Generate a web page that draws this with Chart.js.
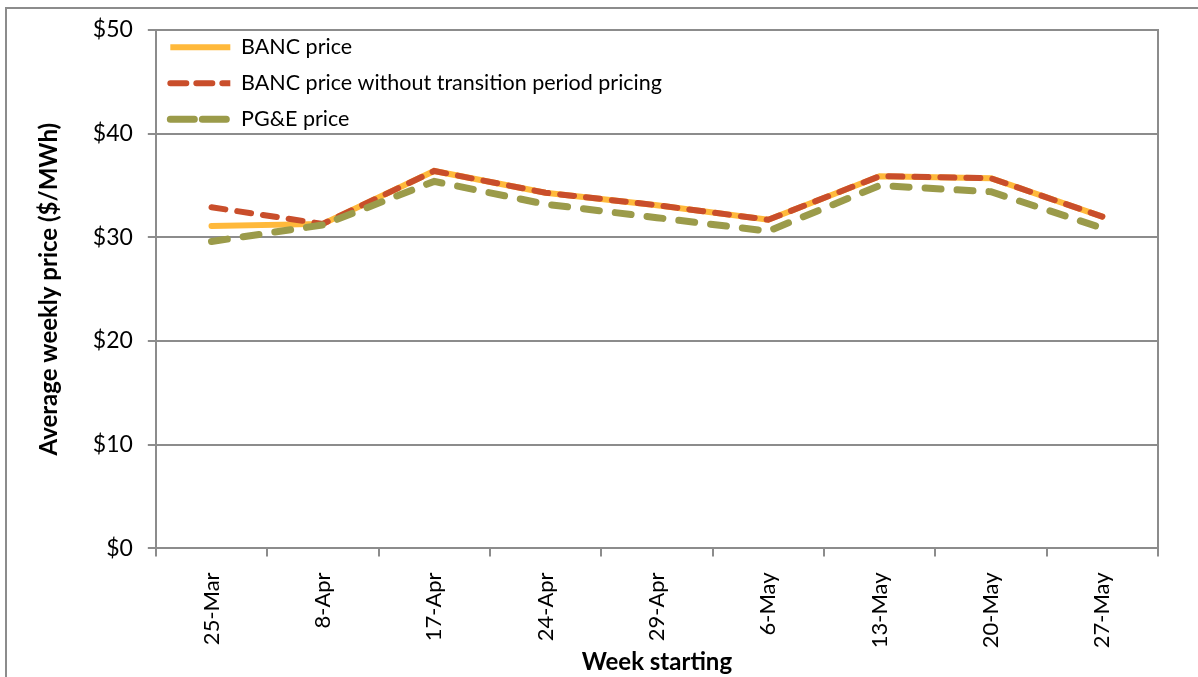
<!DOCTYPE html>
<html>
<head>
<meta charset="utf-8">
<script src="https://cdn.jsdelivr.net/npm/chart.js@4"></script>
<style>
  body { margin: 0; background: #fff; overflow: hidden; }
  #wrap { position: relative; width: 1198px; height: 677px; }
  #frame { position: absolute; left: 5px; top: 7px; width: 1300px; height: 800px;
           border: 2px solid #8c8c8c; pointer-events: none; }
</style>
</head>
<body>
<div id="wrap">
  <canvas id="priceChart" width="1198" height="677"></canvas>
  <div id="frame"></div>
</div>
<script>
let weeks = ['25-Mar', '8-Apr', '17-Apr', '24-Apr', '29-Apr', '6-May', '13-May', '20-May', '27-May'];
let bancPrice = [31.1, 31.3, 36.4, 34.3, 33.1, 31.7, 35.9, 35.7, 32.0];
let bancNoTransition = [32.9, 31.3, 36.4, 34.3, 33.1, 31.7, 35.9, 35.7, 32.0];
let pgePrice = [29.6, 31.2, 35.4, 33.2, 31.9, 30.6, 35.0, 34.4, 30.9];
let yTicks = [0, 10, 20, 30, 40, 50];

const gray = '#8c8c8c';
const fontFamily = 'Lato, "Liberation Sans", sans-serif';

// nudge the legend up a little, it sits inside the plot area
const legendShift = {
    id: 'legendShift',
    beforeDraw(chart) {
        if (chart.legend) chart.legend.top = chart.chartArea.top - 8;
    }
};

new Chart(document.getElementById('priceChart'), {
    type: 'line',
    data: {
        labels: weeks,
        datasets: [{
            label: 'BANC price',
            data: bancPrice,
            borderColor: '#ffb93b',
            backgroundColor: 'transparent',
            borderWidth: 6,
            borderCapStyle: 'round',
            order: 2
        }, {
            label: 'BANC price without transition period pricing',
            data: bancNoTransition,
            borderColor: '#c94e2b',
            backgroundColor: 'transparent',
            borderWidth: 6,
            borderDash: [14, 12],
            borderCapStyle: 'round',
            order: 1
        }, {
            label: 'PG&E price',
            data: pgePrice,
            borderColor: '#9b9b4a',
            backgroundColor: 'transparent',
            borderWidth: 7,
            borderDash: [16, 16],
            borderCapStyle: 'round',
            order: 0
        }]
    },
    options: {
        responsive: false,
        animation: false,
        layout: { padding: { left: 35, right: 40, top: 30, bottom: 0 } },
        elements: { point: { radius: 0 }, line: { tension: 0 } },
        plugins: {
            tooltip: { enabled: false },
            legend: {
                position: 'chartArea',
                align: 'start',
                labels: {
                    boxWidth: 60,
                    boxHeight: 0,
                    padding: 14.5,
                    color: '#000',
                    font: { family: fontFamily, size: 21.5 },
                    sort: (a, b) => a.datasetIndex - b.datasetIndex
                }
            }
        },
        scales: {
            x: {
                offset: true,
                grid: { offset: true, drawOnChartArea: false, color: gray, lineWidth: 2, tickLength: 8 },
                border: { color: gray, width: 2 },
                ticks: {
                    minRotation: 90,
                    maxRotation: 90,
                    padding: 16,
                    color: '#000',
                    font: { family: fontFamily, size: 22 }
                },
                title: {
                    display: true,
                    text: 'Week starting',
                    color: '#000',
                    padding: { top: -16, bottom: 0 },
                    font: { family: fontFamily, size: 24, weight: 'bold' }
                }
            },
            y: {
                min: 0,
                max: 50,
                afterBuildTicks: axis => { axis.ticks = yTicks.map(v => ({ value: v })); },
                grid: { color: gray, lineWidth: 2, tickLength: 8 },
                border: { color: gray, width: 2 },
                ticks: {
                    padding: 15,
                    color: '#000',
                    font: { family: fontFamily, size: 23 },
                    callback: v => '$' + v
                },
                title: {
                    display: true,
                    text: 'Average weekly price ($/MWh)',
                    color: '#000',
                    padding: { top: 0, bottom: 14 },
                    font: { family: fontFamily, size: 24, weight: 'bold' }
                }
            },
            yRight: {
                position: 'right',
                min: 0,
                max: 50,
                ticks: { display: false },
                grid: { drawOnChartArea: false, drawTicks: false },
                border: { color: gray, width: 2 }
            }
        }
    },
    plugins: [legendShift]
});
</script>
</body>
</html>
